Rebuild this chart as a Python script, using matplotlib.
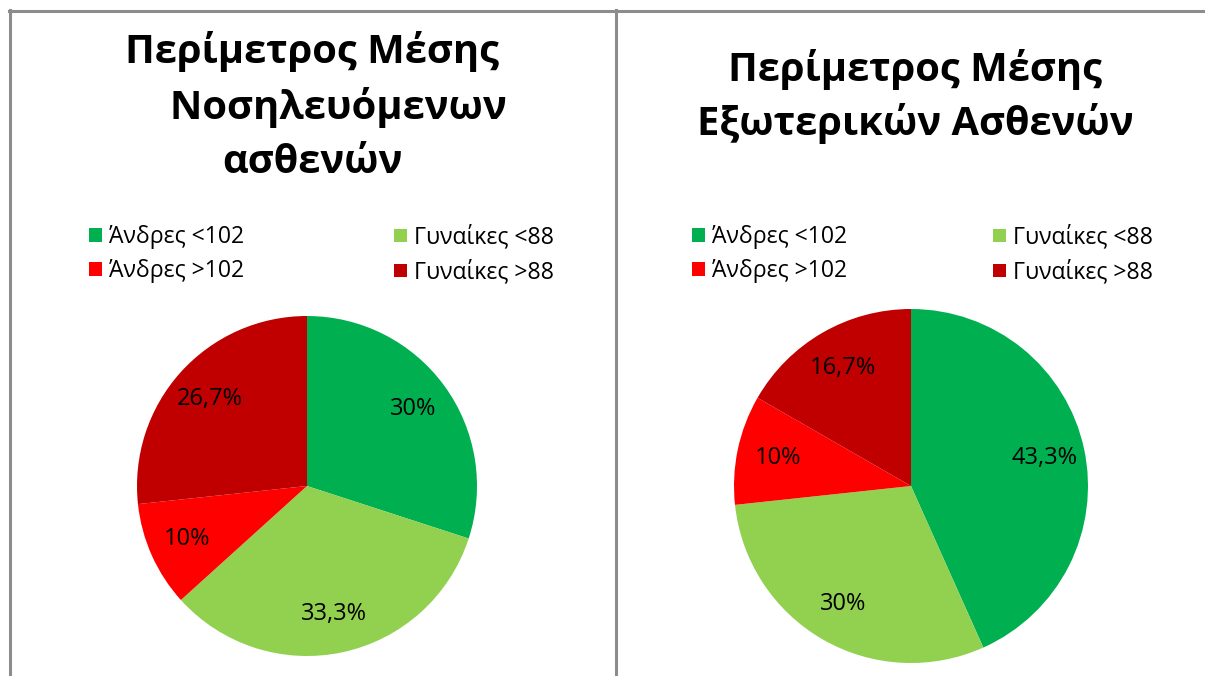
import matplotlib
matplotlib.use("Agg")
import matplotlib.pyplot as plt
from matplotlib.lines import Line2D

plt.rcParams['font.family'] = ['Open Sans', 'DejaVu Sans']

categories = ["Άνδρες <102", "Γυναίκες <88", "Άνδρες >102", "Γυναίκες >88"]
colors = ["#00B050", "#92D050", "#FF0000", "#C00000"]
inpatient_values = [30.0, 33.3, 10.0, 26.7]
outpatient_values = [43.3, 30.0, 10.0, 16.7]
title_left = "Περίμετρος Μέσης\n     Νοσηλευόμενων\nασθενών"
title_right = "Περίμετρος Μέσης\nΕξωτερικών Ασθενών"

W, H = 1205, 676
fig = plt.figure(figsize=(W / 100, H / 100), dpi=100)
fig.patch.set_facecolor("white")


def fx(px):
    return px / W


def fy(py):
    return 1 - py / H


def fmt(p):
    s = f"{p:.1f}".rstrip('0').rstrip('.')
    return s.replace('.', ',') + '%'


def draw_pie(values, cx, cy, r, title, title_cx, title_y, lsp, leg_x1, leg_x2, leg_y):
    ax = fig.add_axes([fx(cx - r), fy(cy + r), (2 * r) / W, (2 * r) / H])
    wedges, _, autotexts = ax.pie(values, colors=colors, startangle=90, counterclock=False,
                                  autopct=fmt, pctdistance=0.77, radius=1,
                                  wedgeprops=dict(linewidth=0),
                                  textprops=dict(fontsize=17, color="black"))
    ax.set_xlim(-1, 1)
    ax.set_ylim(-1, 1)
    ax.set_aspect('equal')
    ax.axis('off')
    fig.text(fx(title_cx), fy(title_y), title, ha='center', va='top',
             fontsize=28.7, fontweight='bold', linespacing=lsp, multialignment='center')
    # legends: two columns
    for xpos, idx in ((leg_x1, [0, 2]), (leg_x2, [1, 3])):
        fig.legend([wedges[i] for i in idx], [categories[i] for i in idx],
                   loc='upper left', bbox_to_anchor=(fx(xpos), fy(leg_y)),
                   frameon=False, fontsize=16.6, handlelength=0.55, handleheight=0.55,
                   handletextpad=0.3, labelspacing=0.45, borderpad=0, borderaxespad=0)
    return ax


draw_pie(inpatient_values, 307, 486, 170, title_left, 312, 31, 1.48, 89, 394, 225)
draw_pie(outpatient_values, 911, 486, 177, title_right, 915, 49, 1.42, 692, 993, 225)

# frame lines
gray = "#8C8C8C"
fig.add_artist(Line2D([fx(9), fx(1204)], [fy(10.5), fy(10.5)], color=gray, linewidth=2.2))
fig.add_artist(Line2D([fx(9.5), fx(9.5)], [fy(10), fy(676)], color=gray, linewidth=2.2))
fig.add_artist(Line2D([fx(616), fx(616)], [fy(10), fy(676)], color=gray, linewidth=2.2))

fig.savefig("out.png", dpi=100, facecolor="white")
